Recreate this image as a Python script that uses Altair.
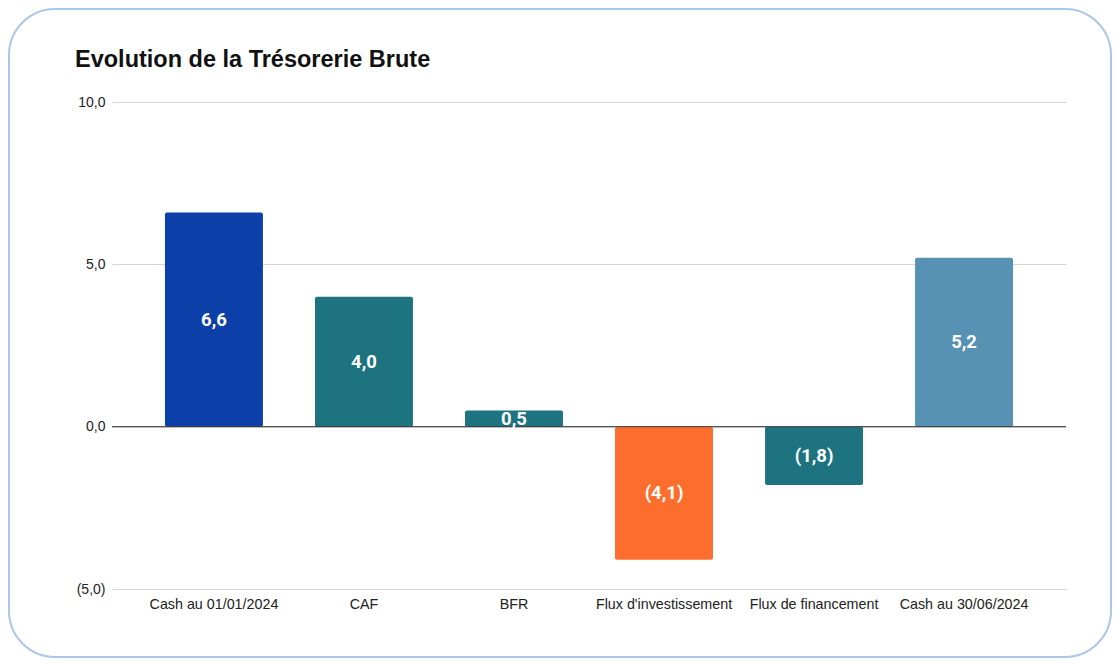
import altair as alt
import pandas as pd

categories = ["Cash au 01/01/2024", "CAF", "BFR", "Flux d'investissement",
              "Flux de financement", "Cash au 30/06/2024"]
values = [6.6, 4.0, 0.5, -4.1, -1.8, 5.2]
bar_colors = ["#0c40a8", "#1d7480", "#1d7480", "#fd6d2d", "#1d7480", "#5792b4"]
y_ticks = [-5, 0, 5, 10]

df = pd.DataFrame({"cat": categories, "value": values, "color": bar_colors})

W, H = 954, 487
PAD = {"left": 104, "top": 94, "right": 46, "bottom": 69}

fmt_expr = ("{v} < 0 ? '(' + replace(format(-{v}, '.1f'), '.', ',') + ')' "
            ": replace(format({v}, '.1f'), '.', ',')")

x_enc = alt.X("cat:N", sort=categories, title=None,
              scale=alt.Scale(paddingInner=0.347, paddingOuter=0.353),
              axis=alt.Axis(labelAngle=0, labelPadding=8, ticks=False, domain=False,
                            labelFont="Liberation Sans", labelFontSize=14.3,
                            labelColor="#222222", grid=False))
y_scale = alt.Scale(domain=[-5, 10], nice=False, zero=False)

base = alt.Chart(df)

card = alt.Chart(pd.DataFrame({"a": [0]})).mark_rect(
    fill="white", fillOpacity=0, stroke="#a9c7e8", strokeWidth=2, cornerRadius=46
).encode(
    x=alt.value(-PAD["left"] + 1), x2=alt.value(W + PAD["right"] - 1),
    y=alt.value(-PAD["top"] + 1), y2=alt.value(H + PAD["bottom"] - 1)
)

bars = base.mark_bar(cornerRadius=2).encode(
    x=x_enc,
    y=alt.Y("value:Q", scale=y_scale, title=None,
            axis=alt.Axis(values=y_ticks, ticks=False, domain=False, labelPadding=7,
                          labelFont="Liberation Sans", labelFontSize=14,
                          labelColor="#222222", gridColor="#d6d6d6",
                          labelExpr=fmt_expr.format(v="datum.value"))),
    y2=alt.datum(0),
    color=alt.Color("color:N", scale=None, legend=None),
)

zero = alt.Chart(pd.DataFrame({"z": [0]})).mark_rule(color="#333333", strokeWidth=1).encode(
    y=alt.Y("z:Q", scale=y_scale),
    x=alt.value(0), x2=alt.value(W)
)

labels = base.transform_calculate(
    mid="datum.value / 2",
    txt=fmt_expr.format(v="datum.value")
).mark_text(color="white", font="Roboto", fontWeight="bold", fontSize=18.5,
            baseline="middle", align="center").encode(
    x=alt.X("cat:N", sort=categories),
    y=alt.Y("mid:Q", scale=y_scale),
    text="txt:N"
)

title = alt.Chart(pd.DataFrame({"t": ["Evolution de la Trésorerie Brute"]})).mark_text(
    font="Liberation Sans", fontWeight="bold", fontSize=23.5, color="#111111",
    align="left", baseline="middle"
).encode(x=alt.value(-37), y=alt.value(-42), text="t:N")

chart = alt.layer(card, bars, zero, labels, title).properties(
    width=W, height=H,
    autosize=alt.AutoSizeParams(type="none"),
    padding=PAD,
    background="white",
).configure_view(stroke=None)

chart.save("out.html", embed_options={"renderer": "svg", "actions": False})
